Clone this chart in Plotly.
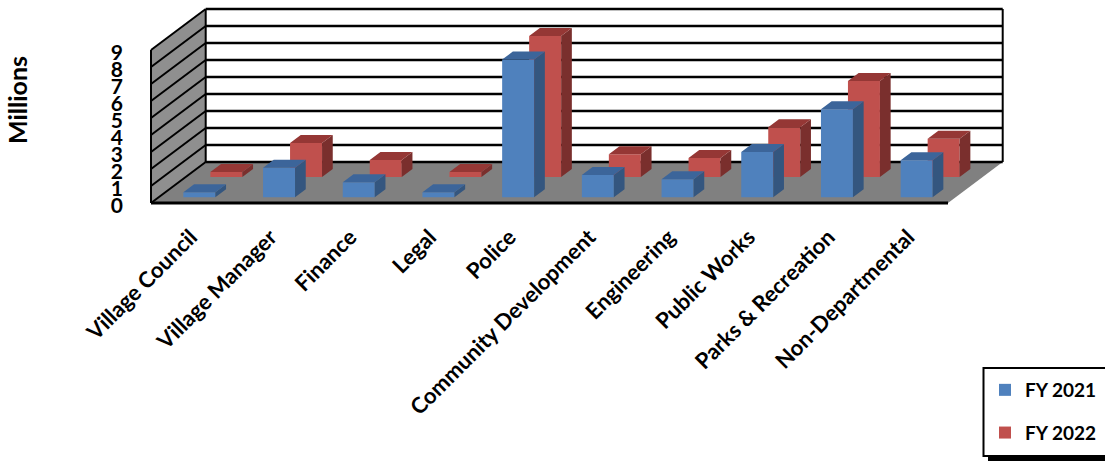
import plotly.graph_objects as go

categories = ["Village Council", "Village Manager", "Finance", "Legal", "Police",
              "Community Development", "Engineering", "Public Works",
              "Parks & Recreation", "Non-Departmental"]
fy2021 = [0.3, 1.74, 0.88, 0.3, 8.1, 1.31, 1.06, 2.66, 5.18, 2.18]
fy2022 = [0.3, 2.0, 1.0, 0.3, 8.3, 1.34, 1.12, 2.93, 5.65, 2.25]
y_ticks = list(range(10))

# oblique projection, in axis units
PX_X = 79.7
PX_Y = 17.0
WALL_DX = 54.7 / PX_X
WALL_DY = 41.0 / PX_Y
BAR_W = 32.0 / PX_X
BAR_DX = 10.7 / PX_X
BAR_DY = 8.0 / PX_Y
BLUE_X = 8.5 / PX_X
BLUE_BASE = 5.7 / PX_Y
RED_X = 35.5 / PX_X
RED_BASE = 26.0 / PX_Y
X0, X1 = -0.5, 9.5

BLUE, BLUE_SIDE, BLUE_TOP = "#4F81BD", "#34567F", "#3C659A"
RED, RED_SIDE, RED_TOP = "#C0504D", "#7A2F2D", "#953735"


def faces(values, off, base):
    sx, sy, tx, ty = [], [], [], []
    for i, v in enumerate(values):
        l = i + off - BAR_W / 2
        r = i + off + BAR_W / 2
        b, t = base, base + v
        sx += [r, r + BAR_DX, r + BAR_DX, r, r, None]
        sy += [b, b + BAR_DY, t + BAR_DY, t, b, None]
        tx += [l, l + BAR_DX, r + BAR_DX, r, l, None]
        ty += [t, t + BAR_DY, t + BAR_DY, t, t, None]
    return sx, sy, tx, ty


def poly(xs, ys):
    return "M " + " L ".join(f"{x},{y}" for x, y in zip(xs, ys)) + " Z"


def series(name, values, off, base, col, side, top, rank):
    idx = list(range(len(values)))
    sx, sy, tx, ty = faces(values, off, base)
    out = [
        go.Bar(x=[i + off for i in idx], y=values, base=base, width=BAR_W, name=name,
               marker=dict(color=col, line_width=0), legendgroup=name, legendrank=rank,
               hoverinfo="skip"),
        go.Scatter(x=sx, y=sy, mode="lines", fill="toself", fillcolor=side,
                   line=dict(width=0, color=side), showlegend=False, legendgroup=name,
                   hoverinfo="skip"),
        go.Scatter(x=tx, y=ty, mode="lines", fill="toself", fillcolor=top,
                   line=dict(width=0, color=top), showlegend=False, legendgroup=name,
                   hoverinfo="skip"),
    ]
    return out


shapes = []
# walls and floor
shapes.append(dict(type="path", layer="below", line_width=0, fillcolor="#8F8F8F",
                   path=poly([X0, X0 + WALL_DX, X0 + WALL_DX, X0],
                             [0, WALL_DY, WALL_DY + 9, 9])))
shapes.append(dict(type="path", layer="below", line_width=0, fillcolor="#808080",
                   path=poly([X0, X0 + WALL_DX, X1 + WALL_DX, X1],
                             [0, WALL_DY, WALL_DY, 0])))
# gridlines along both walls
for v in y_ticks:
    shapes.append(dict(type="line", layer="below", x0=X0, y0=v, x1=X0 + WALL_DX, y1=v + WALL_DY,
                       line=dict(color="black", width=2)))
    shapes.append(dict(type="line", layer="below", x0=X0 + WALL_DX, y0=v + WALL_DY,
                       x1=X1 + WALL_DX, y1=v + WALL_DY, line=dict(color="black", width=2.5)))
# frame edges
shapes.append(dict(type="line", layer="below", x0=X0, y0=0, x1=X0, y1=9, line=dict(color="black", width=2)))
shapes.append(dict(type="line", layer="below", x0=X0 + WALL_DX, y0=WALL_DY, x1=X0 + WALL_DX, y1=WALL_DY + 9,
                   line=dict(color="black", width=2)))
shapes.append(dict(type="line", layer="below", x0=X1 + WALL_DX, y0=WALL_DY, x1=X1 + WALL_DX, y1=WALL_DY + 9,
                   line=dict(color="black", width=2)))
shapes.append(dict(type="line", layer="below", x0=X0, y0=0, x1=X1, y1=0, line=dict(color="black", width=3)))

# legend box and its shadow, in page fractions
W, H = 1105, 461
shapes.append(dict(type="rect", xref="paper", yref="paper", layer="below",
                   x0=(988 - 148) / 862, x1=(1110 - 148) / 862,
                   y0=(206 - 462) / 206, y1=(206 - 445) / 206,
                   fillcolor="black", line_width=0))
shapes.append(dict(type="rect", xref="paper", yref="paper", layer="below",
                   x0=(983.5 - 148) / 862, x1=(1110 - 148) / 862,
                   y0=(206 - 456) / 206, y1=(206 - 368) / 206,
                   fillcolor="white", line=dict(color="black", width=2)))

FONT = "Lato"
traces = series("FY 2022", fy2022, RED_X, RED_BASE, RED, RED_SIDE, RED_TOP, 2) + \
         series("FY 2021", fy2021, BLUE_X, BLUE_BASE, BLUE, BLUE_SIDE, BLUE_TOP, 1)

fig = go.Figure(traces)
fig.update_layout(
    width=W, height=H,
    margin=dict(l=148, r=95, t=0, b=255, pad=0, autoexpand=False),
    paper_bgcolor="white", plot_bgcolor="white",
    barmode="overlay",
    font=dict(family=FONT, color="black"),
    shapes=shapes,
    xaxis=dict(range=[-0.5 - 3 / PX_X, -0.5 - 3 / PX_X + 862 / PX_X], showgrid=False, zeroline=False,
               showline=False, tickmode="array", tickvals=list(range(len(categories))),
               ticktext=categories, tickangle=-45,
               tickfont=dict(family=FONT, size=22, color="black", weight="bold"), ticks="",
               ticklabelstandoff=13),
    yaxis=dict(range=[-3 / PX_Y, 203 / PX_Y], showgrid=False, zeroline=False, showline=False,
               tickmode="array", tickvals=[v - 0.15 for v in y_ticks], ticktext=[str(v) for v in y_ticks],
               tickfont=dict(family=FONT, size=21, color="black", weight="bold"), ticks="",
               ticklabelstandoff=24),
    legend=dict(xref="container", yref="container", x=985 / W, y=1 - 371 / H,
                xanchor="left", yanchor="top", traceorder="grouped", tracegroupgap=15,
                bgcolor="rgba(0,0,0,0)", borderwidth=0,
                font=dict(family=FONT, size=19, color="black", weight="bold"),
                itemclick=False, itemdoubleclick=False),
    annotations=[dict(text="Millions", xref="paper", yref="paper",
                      x=(17 - 148) / 862, y=(206 - 100) / 206, textangle=-90, showarrow=False,
                      xanchor="center", yanchor="middle",
                      font=dict(family=FONT, size=25, color="black", weight="bold"))],
    showlegend=True,
)
fig.write_html("out.html", config={"displayModeBar": False},
               post_script="document.body.style.margin='0';")
